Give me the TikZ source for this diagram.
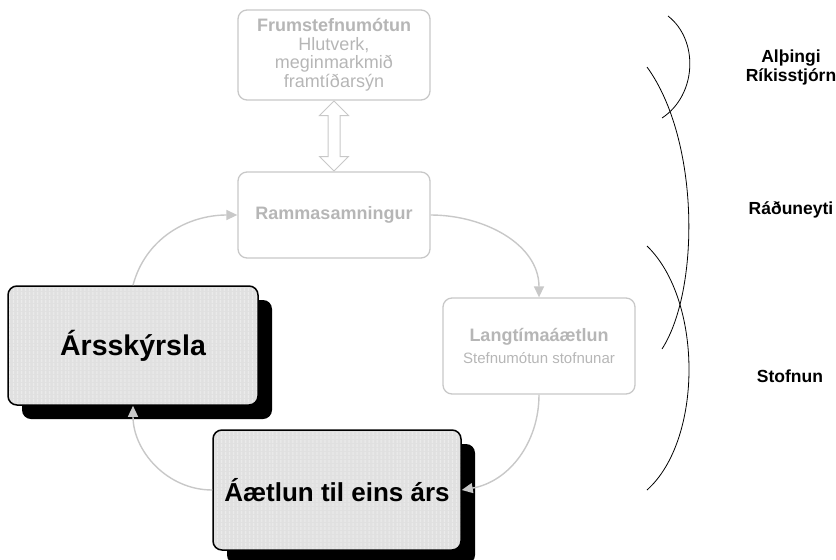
\documentclass[tikz,border=0pt]{standalone}
\usepackage{fontspec}
\setmainfont{Liberation Sans}
\usepackage{tikz}
\usetikzlibrary{arrows.meta, shapes.arrows, shadows, patterns.meta, calc}
\definecolor{faintline}{RGB}{200,200,200}
\definecolor{fainttext}{RGB}{182,182,182}
\definecolor{boxfill}{RGB}{224,224,224}
\definecolor{stripe}{RGB}{236,236,236}

\begin{document}
\begin{tikzpicture}[x=1pt, y=1pt,
    faint/.style={draw=faintline, line width=1.3pt, rounded corners=9pt,
      text=fainttext, align=center, font=\fontsize{18}{18.5}\selectfont},
    strong/.style={draw=black, line width=1.5pt, rounded corners=9pt,
      drop shadow={shadow xshift=14pt, shadow yshift=-14pt, fill=black, opacity=1},
      preaction={fill=boxfill},
      pattern={Lines[angle=90, distance=4pt, line width=1.6pt]}, pattern color=stripe,
      font=\fontsize{26}{30}\selectfont\bfseries},
    flow/.style={draw=faintline, line width=1.4pt, -{Triangle[length=11pt, width=10pt]}},
    hollow/.style={double arrow, draw=faintline, line width=1pt, rotate=90,
      inner sep=5.5pt, double arrow head extend=8.5pt, minimum height=70pt},
    side/.style={align=center, font=\fontsize{17.5}{19}\selectfont\bfseries}]
  \useasboundingbox (0,0) rectangle (836,-560);

  \node[faint, minimum width=192pt, minimum height=90pt](Frum) at (334,-55)
    {\textbf{Frumstefnumótun}\\Hlutverk,\\meginmarkmið\\framtíðarsýn};
  \node[faint, minimum width=192pt, minimum height=86pt](Ramma) at (334,-215)
    {\textbf{Rammasamningur}};
  \node[faint, minimum width=192pt, minimum height=96pt, font=\fontsize{18}{22}\selectfont](Lang) at (539,-346)
    {\textbf{Langtímaáætlun}\\{\fontsize{15}{22}\selectfont Stefnumótun stofnunar}};
  \node[strong, minimum width=250pt, minimum height=119pt, font=\fontsize{28.5}{30}\selectfont\bfseries](Arsk) at (133,-345.5) {Ársskýrsla};
  \node[strong, minimum width=248pt, minimum height=120pt](Aaetlun) at (337,-490) {Áætlun til eins árs};

  \node[hollow](Link) at ($(Frum.south)!0.5!(Ramma.north)$) {};

  \draw[flow] (Arsk.north) to[out=75, in=180] (Ramma.west);
  \draw[flow] (Ramma.east) to[out=0, in=90] (Lang.north);
  \draw[flow] (Lang.south) to[out=-90, in=10] (Aaetlun.east);
  \draw[flow] (Aaetlun.west) to[out=180, in=-90] (Arsk.south);

  % levels on the right
  \draw[line width=0.8pt] (668,-16) .. controls (699,-40) and (697,-95) .. (662,-118);
  \draw[line width=0.8pt] (647,-67) .. controls (700,-140) and (700,-290) .. (662,-349);
  \draw[line width=0.8pt] (647,-246) .. controls (703,-300) and (703,-440) .. (647,-490);
  \node[side](Top) at (791,-67) {Alþingi\\Ríkisstjórn};
  \node[side](Mid) at (791,-210) {Ráðuneyti};
  \node[side](Low) at (790,-376) {Stofnun};
\end{tikzpicture}
\end{document}
